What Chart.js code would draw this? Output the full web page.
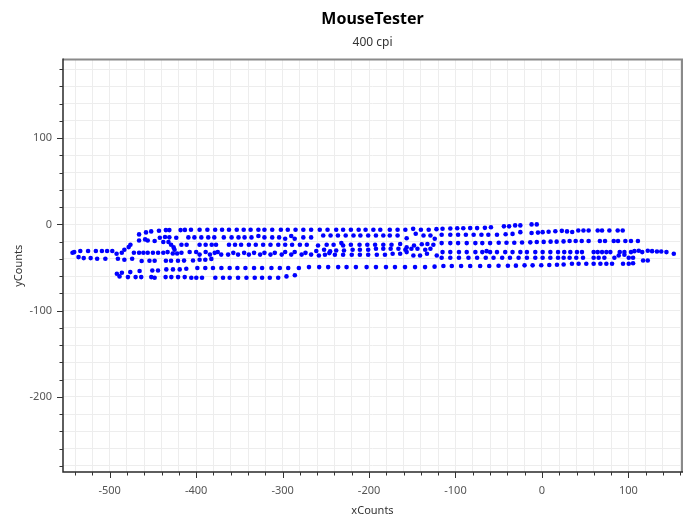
<!DOCTYPE html>
<html>
<head>
<meta charset="utf-8">
<script src="https://cdn.jsdelivr.net/npm/chart.js@4/dist/chart.umd.min.js"></script>
<style>
html,body{margin:0;padding:0;background:#fff;}
#wrap{width:700px;height:525px;}
</style>
</head>
<body>
<div id="wrap"><canvas id="c" width="700" height="525"></canvas></div>
<script>
// ---- data (xCounts, yCounts) ----
const rowA = [[-466,-11.6],[-458,-9.3],[-452,-8.1],[-443,-7.3],[-435,-6.6],[-431,-6.6],[-418,-6.6],[-413,-6.4],[-406,-6.2],[-396,-6.2],[-387,-6.2],[-378,-6.2],[-370,-6.2],[-362,-6.2],[-353,-6.2],[-345,-6.2],[-337,-6.2],[-328,-6.2],[-321,-6.2],[-312,-6.2],[-302,-6.2],[-294,-6.2],[-285,-6.2],[-276,-6.2],[-267,-6.2],[-257,-6.2],[-248,-6.2],[-238,-6.2],[-230,-6.2],[-221,-6.2],[-212,-6.2],[-204,-6.2],[-195,-6.2],[-187,-6.2],[-176,-6.2],[-167,-6.2],[-158,-6.2],[-149,-5.2],[-140,-6.2],[-131,-6.2],[-122,-5.5],[-115,-5],[-106,-4.8],[-98,-4.5],[-91,-4.5],[-83,-4.3],[-75,-4.3],[-66,-4],[-59,-3.3],[-44,-2.3],[-38,-2.3],[-31,-1.2],[-25,-1.2],[-12,0],[-6,0]];
const rowB = [[-466,-18.6],[-459,-17.4],[-456,-18.6],[-448,-19.3],[-442,-15.5],[-436,-14.7],[-431,-15],[-423,-15.5],[-409,-15.1],[-402,-15.1],[-394,-15.1],[-386,-15.1],[-379,-15.1],[-368,-15.1],[-359,-15.1],[-351,-15.1],[-344,-15.1],[-336,-15.1],[-328,-13.5],[-321,-15.1],[-312,-15.1],[-304,-15.1],[-297,-16.6],[-290,-13.5],[-286,-16.6],[-276,-15.1],[-267,-15.1],[-253,-12.8],[-244.5,-12.8],[-236,-12.8],[-227,-12.8],[-218,-12.8],[-210,-12.8],[-201,-12.8],[-192,-12.8],[-183.5,-12.8],[-176,-12.8],[-167,-12.8],[-156.5,-16],[-146,-10.8],[-137,-12.8],[-129,-12.8],[-124,-16.6],[-116,-12],[-106,-12],[-97,-12],[-88,-12],[-79,-12],[-70,-12],[-62,-12],[-52,-12],[-42,-11.5],[-34,-11],[-25,-9],[-12,-10],[-4.6,-9.5],[0.8,-9],[7.7,-8.5],[15.5,-8],[23,-7.5],[29,-8.1],[35,-8.9],[42,-7],[48,-7],[54,-7],[64.5,-7],[69.5,-7],[78,-7],[87.6,-7],[93.4,-7]];
const rowC = [[-438,-20.5],[-432,-20.5],[-429,-23.6],[-426,-26.7],[-425,-29.4],[-417,-23.6],[-411,-23.6],[-396,-23.6],[-389,-23.6],[-382,-23.6],[-377,-23.6],[-362,-23.6],[-355,-23.6],[-348,-23.6],[-339,-23.6],[-331,-23.6],[-322.5,-23.6],[-314,-23.6],[-305,-23.6],[-297,-23.6],[-289,-23.6],[-280,-23.6],[-272,-23.6],[-259,-24.4],[-249,-23.6],[-241,-23.6],[-232,-21.7],[-230,-24.4],[-221,-23.6],[-211,-23.6],[-202,-23.6],[-193,-23.6],[-183.5,-23.6],[-174,-23.6],[-164,-22.8],[-156.5,-26.7],[-148,-24.4],[-139,-23],[-132.5,-22.8],[-125.6,-23.6],[-116,-21.7],[-106,-21.7],[-97,-21.7],[-87,-21.7],[-77,-21.7],[-69,-21.7],[-60,-21.7],[-50,-21.2],[-41,-21.2],[-32,-21.2],[-23,-21],[-13.5,-20.8],[-6,-20.5],[2,-20.3],[10,-20],[17,-20],[25,-19.7],[32,-19.3],[39,-19.3],[46,-19.3],[54,-19.3],[67,-19.3],[73,-19.3],[83,-19.3],[88,-19.3],[96.5,-19.3],[103,-19.3],[111,-19.3]];
const rowD = [[-543,-32.9],[-541,-32.1],[-534,-30.9],[-525,-30.9],[-516,-30.9],[-509,-30.9],[-503,-30.9],[-497,-30.9],[-492,-34],[-486,-32.9],[-483,-29.4],[-478,-26.3],[-476,-23.6],[-472,-32.9],[-466,-32.9],[-461,-32.9],[-456,-32.9],[-450,-32.9],[-444,-32.9],[-438,-32.9],[-433,-32.1],[-427,-33.7],[-422,-33.7],[-417,-32.9],[-407.5,-32],[-400,-32],[-396,-35],[-389,-32],[-384,-35],[-378.5,-33],[-375,-32],[-371,-35],[-363,-35],[-357,-33],[-351.5,-35],[-344.5,-33],[-339,-35],[-333,-33],[-326,-35],[-321,-33],[-314,-35],[-309,-33],[-301,-35],[-297,-32],[-290,-35],[-286,-32],[-278,-35],[-273.5,-33],[-267,-35],[-261,-30.9],[-252,-29.4],[-245,-31.3],[-238,-30.2],[-229,-30.2],[-219,-29.4],[-210.6,-29.4],[-201,-29.4],[-192,-28.2],[-183.5,-28.2],[-175,-28.2],[-166,-28.2],[-158,-29.4],[-151,-28.2],[-144,-28.2],[-135,-29.4],[-129,-28.2],[-258,-36],[-251,-35.2],[-246,-33.3],[-239.5,-35.2],[-230,-35.2],[-220,-35.2],[-210.6,-35.2],[-201,-35.2],[-191,-35.2],[-181.6,-35.2],[-172.7,-34],[-164,-34],[-156.5,-32.1],[-148.7,-36],[-141,-36],[-133,-34],[-121.7,-36],[-115,-32.1],[-106,-32.1],[-96,-32.1],[-87,-32.1],[-77,-32.1],[-69,-32.1],[-64,-31],[-60,-32.1],[-52,-32.1],[-42.5,-32.1],[-34,-32.1],[-25,-32.1],[-17.4,-32.1],[-7.7,-32.1],[0.8,-32.1],[9.7,-32.1],[18.6,-32.1],[25.8,-32.1],[32.8,-32.1],[40.5,-32.1],[46.3,-32.1],[59.8,-32.1],[64.5,-32.1],[69.5,-32.1],[74.5,-32.1],[79.1,-32.1],[90,-32.1],[95.4,-32.1],[103,-32.1],[107,-31],[112,-30.5],[116,-32.1],[122.4,-30.5],[127.4,-31],[133,-31.5],[138,-31.5],[144,-32.1],[152.5,-34]];
const rowE = [[-536,-37.9],[-530,-39.1],[-522,-39.1],[-514.5,-39.8],[-505,-39.8],[-490.5,-39.8],[-483,-41],[-474,-39.8],[-463,-42.5],[-454,-42.2],[-448,-42.2],[-435,-42.2],[-429,-42.2],[-421,-42.2],[-414,-42],[-403.6,-41.8],[-396,-41],[-389.4,-41],[-382.4,-40],[-116,-38.7],[-106,-38.7],[-96,-38.7],[-85,-38.7],[-75,-38.7],[-65,-38.7],[-56,-38.7],[-46,-38.7],[-37,-38.7],[-27,-38.7],[-17.4,-38.7],[-7.7,-38.7],[0.8,-38.7],[9.7,-38.7],[18.6,-38.7],[25.1,-38.7],[32,-38.7],[39.7,-38.7],[47.5,-38.7],[59.8,-38.7],[65.6,-38.7],[72.2,-38.7],[83.8,-38.7],[88.8,-36],[95.4,-35.2],[100.4,-38.7],[105.4,-38.7]];
const rowF = [[-491.7,-57.2],[-485.9,-56.1],[-476.2,-55.3],[-465.4,-54.1],[-450.7,-53.4],[-444.1,-53.4],[-434.5,-52.2],[-426.8,-52.2],[-419,-52.2],[-411.4,-51.4],[-398.6,-50.6],[-389.4,-50.6],[-380.5,-50.6],[-370.8,-50.6],[-361.2,-50.6],[-352.3,-50.6],[-343,-50.6],[-333,-50.6],[-323.7,-50.6],[-312.9,-50.6],[-303.2,-50.6],[-293.5,-50.6],[-281.2,-50.6],[-269.5,-49.5],[-257.7,-49.5],[-247.3,-49.5],[-235.7,-49.5],[-226,-49.5],[-215.2,-49.5],[-202.8,-49.5],[-192,-49.5],[-180.4,-49.5],[-170,-49.5],[-158.4,-49.5],[-146.8,-49.5],[-135.2,-49.5],[-124.2,-49],[-114,-48.3],[-104.3,-48.3],[-93.5,-48.3],[-83,-48.3],[-71.5,-48.3],[-61,-48.3],[-50.2,-48],[-39.4,-48],[-30.1,-47.8],[-20.1,-47.5],[-10.8,-47.5],[-0.8,-47.3],[8.5,-47],[17.4,-46.8],[25.1,-46.5],[34.7,-45.6],[42.4,-45.6],[51.3,-45.6],[59.8,-45.6],[67.6,-45.6],[74.5,-45.6],[81.1,-45.6],[93.8,-45.6],[100.4,-45.6],[105.4,-45],[117,-41.8],[122.4,-41.8]];
const rowG = [[-488.6,-60.3],[-478.9,-61.1],[-470,-61.1],[-463.5,-61.1],[-451.9,-61.1],[-448,-61.9],[-435.3,-61.1],[-428.7,-61.1],[-420.9,-61.1],[-413.2,-61.1],[-405.6,-61.9],[-399.8,-61.9],[-393.2,-61.9],[-377.8,-61.9],[-368.9,-61.9],[-361.2,-61.9],[-351.5,-61.9],[-341.8,-61.9],[-332.2,-61.9],[-323.7,-61.9],[-314.8,-61.9],[-305.1,-61.9],[-295.5,-60.3],[-285.8,-59]];

// ---- axes ----
const xTicks = [-540,-520,-500,-480,-460,-440,-420,-400,-380,-360,-340,-320,-300,-280,-260,-240,-220,-200,-180,-160,-140,-120,-100,-80,-60,-40,-20,0,20,40,60,80,100,120,140,160];
const yTicks = [-280,-260,-240,-220,-200,-180,-160,-140,-120,-100,-80,-60,-40,-20,0,20,40,60,80,100,120,140,160,180];
const xMajor = [-500,-400,-300,-200,-100,0,100];
const yMajor = [-200,-100,0,100];
const xRange = [-554, 162];
const yRange = [-287, 191];

const allRows = [rowA, rowB, rowC, rowD, rowE, rowF, rowG];
const points = [];
allRows.forEach(r => r.forEach(p => points.push({x: p[0], y: p[1]})));

const FONT = "'Noto Sans', 'Open Sans', sans-serif";

const frame = {
  id: 'frame',
  afterDraw(chart) {
    const ctx = chart.ctx;
    const {left, right, top, bottom} = chart.chartArea;
    const xs = chart.scales.x, ys = chart.scales.y;
    ctx.save();
    ctx.strokeStyle = '#8a8a8a';
    ctx.lineWidth = 2;
    ctx.beginPath();
    ctx.moveTo(left, top); ctx.lineTo(right, top); ctx.lineTo(right, bottom);
    ctx.stroke();
    ctx.strokeStyle = '#2a2a2a';
    ctx.lineWidth = 1.5;
    ctx.beginPath();
    ctx.moveTo(left, top - 1); ctx.lineTo(left, bottom); ctx.lineTo(right + 1, bottom);
    ctx.stroke();
    ctx.lineWidth = 1;
    ctx.strokeStyle = '#333';
    ctx.beginPath();
    xTicks.forEach(v => {
      const px = Math.round(xs.getPixelForValue(v)) + 0.5;
      const len = xMajor.includes(v) ? 6 : 3.5;
      ctx.moveTo(px, bottom); ctx.lineTo(px, bottom + len);
    });
    yTicks.forEach(v => {
      const py = Math.round(ys.getPixelForValue(v)) + 0.5;
      const len = yMajor.includes(v) ? 6 : 3.5;
      ctx.moveTo(left, py); ctx.lineTo(left - len, py);
    });
    ctx.stroke();
    ctx.restore();
  }
};

new Chart(document.getElementById('c'), {
  type: 'scatter',
  data: {
    datasets: [{
      data: points,
      backgroundColor: '#0000ff',
      borderColor: '#0000ff',
      borderWidth: 0,
      pointRadius: 2.3,
      pointHoverRadius: 2.3
    }]
  },
  options: {
    responsive: false,
    animation: false,
    devicePixelRatio: 1,
    layout: { padding: { left: 8, right: 18, top: 0, bottom: 6 } },
    plugins: {
      legend: { display: false },
      tooltip: { enabled: false },
      title: {
        display: true, text: 'MouseTester', fullSize: false,
        color: '#000', font: { family: FONT, size: 16, weight: 'bold' },
        padding: { top: 10, bottom: 6 }
      },
      subtitle: {
        display: true, text: '400 cpi', fullSize: false,
        color: '#333', font: { family: FONT, size: 12 },
        padding: { top: 0, bottom: 10 }
      }
    },
    scales: {
      x: {
        type: 'linear', min: xRange[0], max: xRange[1],
        afterBuildTicks: s => { s.ticks = xTicks.map(v => ({ value: v })); },
        afterFit: s => { s.height = 47; },
        ticks: {
          autoSkip: false, maxRotation: 0, padding: 12, color: '#555',
          font: { family: FONT, size: 11 },
          callback: v => xMajor.includes(v) ? String(v) : ''
        },
        grid: { color: '#ededed', lineWidth: 1, drawTicks: false },
        border: { display: false },
        title: { display: true, text: 'xCounts', color: '#333', font: { family: FONT, size: 11 }, padding: { top: 2, bottom: 2 } }
      },
      y: {
        type: 'linear', min: yRange[0], max: yRange[1],
        afterBuildTicks: s => { s.ticks = yTicks.map(v => ({ value: v })); },
        afterFit: s => { s.width = 55; },
        ticks: {
          autoSkip: false, padding: 11, color: '#555',
          font: { family: FONT, size: 11 },
          callback: v => yMajor.includes(v) ? String(v) : ''
        },
        grid: { color: '#ededed', lineWidth: 1, drawTicks: false },
        border: { display: false },
        title: { display: true, text: 'yCounts', color: '#333', font: { family: FONT, size: 11 }, padding: { top: 4, bottom: 0 } }
      }
    }
  },
  plugins: [frame]
});
</script>
</body>
</html>
